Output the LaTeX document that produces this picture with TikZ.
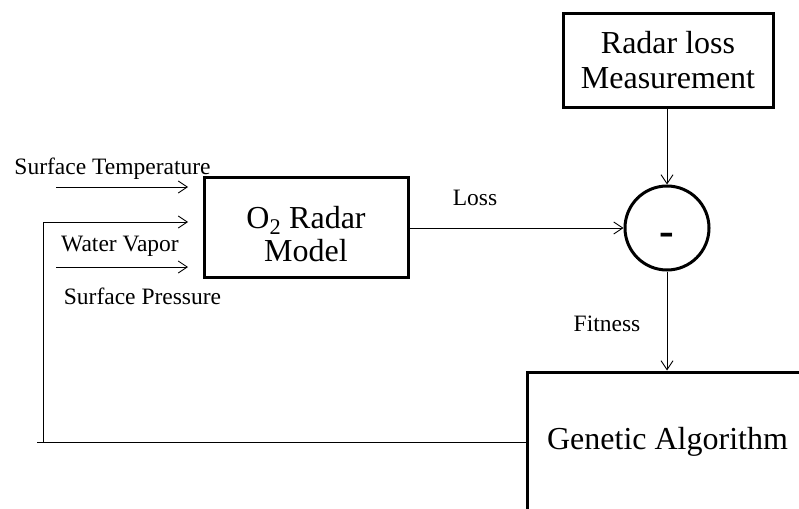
\documentclass[tikz,border=0pt]{standalone}
\usepackage{fontspec}
\setmainfont{Liberation Serif}
\usetikzlibrary{arrows.meta}
\begin{document}
\begin{tikzpicture}[x=1pt,y=-1pt,
  bigbox/.style={draw=black, line width=3pt, align=center, inner sep=0pt,
    font=\fontsize{32}{35}\selectfont},
  bigtext/.style={align=center, inner sep=0pt, font=\fontsize{32}{35}\selectfont},
  lbl/.style={inner sep=0pt, anchor=base, font=\fontsize{23.5}{26}\selectfont},
  conn/.style={draw=black, line width=0.9pt},
  arr/.style={conn, -{Straight Barb[length=9pt,width=12pt,line width=0.9pt]}}]
\useasboundingbox (0,0) rectangle (799,508);
\clip (0,0) rectangle (799,508);
% blocks
\node[bigbox, minimum width=210pt, minimum height=93pt] (meas) at (668,60.5)
  {Radar loss\\Measurement};
\node[bigbox, minimum width=204pt, minimum height=100pt] (o2) at (306,227) {};
\node[bigtext] (o2t) at ([yshift=-7pt]o2.center)
  {O\textsubscript{2} Radar\\[-2pt]Model};
\node[draw=black, line width=3pt, circle, minimum size=84pt, inner sep=0pt] (circ) at (667,228) {};
\node[inner sep=0pt, font=\fontsize{44}{44}\selectfont\bfseries] (minus) at ([yshift=-11pt]circ.center) {-};
\node[bigbox, minimum width=281pt, minimum height=140pt] (ga) at (667.5,442)
  {Genetic Algorithm};
% coordinates for inputs
\coordinate (st0) at (56,187);  \coordinate (st1) at (188,187);
\coordinate (wv1) at (188,222);
\coordinate (sp0) at (56,267);  \coordinate (sp1) at (188,267);
\coordinate (fbA) at (43,442);  \coordinate (fbB) at (37,442);
% labels
\node[lbl] (tst) at (112.5,174) {Surface Temperature};
\node[lbl] (twv) at (120,251) {Water Vapor};
\node[lbl] (tsp) at (142.5,304) {Surface Pressure};
\node[lbl] (tloss) at (475,205) {Loss};
\node[lbl] (tfit) at (607,331) {Fitness};
% connectors
\draw[arr] (st0) -- (st1);
\draw[arr] (sp0) -- (sp1);
\draw[arr] (fbA) |- (wv1);
\draw[conn] (ga.west) -- (fbB);
\draw[arr] (o2.east |- circ.west) -- (circ.west);
\draw[arr] (meas.south -| circ.north) -- (circ.north);
\draw[arr] (circ.south) -- (circ.south |- ga.north);
\end{tikzpicture}
\end{document}
